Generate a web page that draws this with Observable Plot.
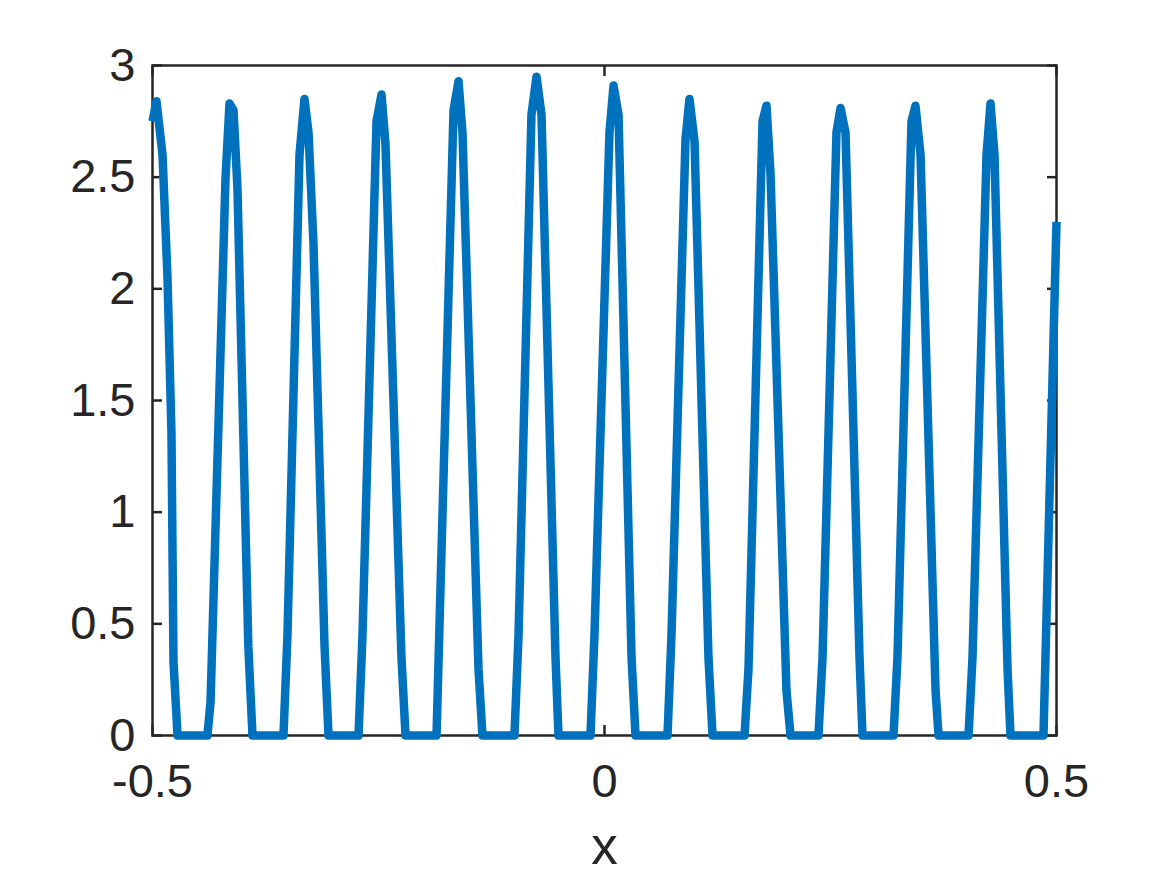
<!DOCTYPE html>
<html><head><meta charset="utf-8">
<script src="https://cdn.jsdelivr.net/npm/d3@7"></script>
<script src="https://cdn.jsdelivr.net/npm/@observablehq/plot@0.6"></script>
<style>body{margin:0;background:#fff}</style>
</head><body><div id="chart"></div>
<script>
const xValues = [
  -0.5, -0.4956, -0.4889, -0.4834, -0.4790, -0.4768, -0.4723,
  -0.4392, -0.4358, -0.4192, -0.4148, -0.4104, -0.4060, -0.3940, -0.3894,
  -0.3551, -0.3507, -0.3374, -0.3319, -0.3274, -0.3219, -0.3097, -0.3053,
  -0.2721, -0.2677, -0.2522, -0.2467, -0.2423, -0.2246, -0.2201,
  -0.1858, -0.1825, -0.1670, -0.1615, -0.1571, -0.1394, -0.1350,
  -0.0996, -0.0951, -0.0808, -0.0752, -0.0697, -0.0542, -0.0509,
  -0.0155, -0.0111, 0.0055, 0.0100, 0.0155, 0.0299, 0.0343,
  0.0697, 0.0741, 0.0896, 0.0940, 0.0996, 0.1150, 0.1195,
  0.1549, 0.1593, 0.1748, 0.1792, 0.1836, 0.2013, 0.2058,
  0.2367, 0.2412, 0.2566, 0.2611, 0.2666, 0.2821, 0.2854,
  0.3197, 0.3241, 0.3396, 0.3440, 0.3496, 0.3662, 0.3695,
  0.4027, 0.4071, 0.4226, 0.4270, 0.4314, 0.4458, 0.4491,
  0.4856, 0.5
];
const yValues = [
  2.75, 2.84, 2.6, 2.05, 1.35, 0.33, 0,
  0, 0.15, 2.5, 2.83, 2.8, 2.45, 0.4, 0,
  0, 0.45, 2.6, 2.85, 2.7, 2.2, 0.4, 0,
  0, 0.45, 2.75, 2.87, 2.65, 0.35, 0,
  0, 0.5, 2.8, 2.93, 2.7, 0.3, 0,
  0, 0.45, 2.78, 2.95, 2.78, 0.35, 0,
  0, 0.45, 2.7, 2.91, 2.78, 0.35, 0,
  0, 0.45, 2.67, 2.85, 2.66, 0.35, 0,
  0, 0.3, 2.75, 2.82, 2.52, 0.2, 0,
  0, 0.35, 2.7, 2.81, 2.7, 0.35, 0,
  0, 0.35, 2.75, 2.82, 2.6, 0.2, 0,
  0, 0.35, 2.6, 2.83, 2.6, 0.3, 0,
  0, 2.3
];
const xTicks = [-0.5, 0, 0.5];
const yTicks = [0, 0.5, 1, 1.5, 2, 2.5, 3];
const xLabel = "x";

const data = xValues.map((x, i) => ({x, y: yValues[i]}));
const axisColor = "#262626";
const fmt = d => String(d);

const chart = Plot.plot({
  width: 1167, height: 875,
  marginLeft: 152, marginRight: 111, marginTop: 65, marginBottom: 140,
  style: {fontFamily: "'Liberation Sans', Arial, Helvetica, sans-serif", background: "#fff", color: axisColor},
  x: {domain: [-0.5, 0.5]},
  y: {domain: [0, 3]},
  marks: [
    Plot.frame({stroke: axisColor, strokeWidth: 2.5}),
    Plot.axisX(xTicks, {anchor: "bottom", tickSize: -10, text: null, stroke: axisColor, strokeWidth: 2.5, label: null}),
    Plot.axisX(xTicks, {anchor: "top", tickSize: -10, text: null, stroke: axisColor, strokeWidth: 2.5, label: null}),
    Plot.axisY(yTicks, {anchor: "left", tickSize: -10, text: null, stroke: axisColor, strokeWidth: 2.5, label: null}),
    Plot.axisY(yTicks, {anchor: "right", tickSize: -10, text: null, stroke: axisColor, strokeWidth: 2.5, label: null}),
    Plot.axisX(xTicks, {anchor: "bottom", tickSize: 0, tickPadding: 28, fontSize: 47, tickFormat: fmt, fill: axisColor, label: null}),
    Plot.axisY(yTicks, {anchor: "left", tickSize: 0, tickPadding: 17, fontSize: 47, tickFormat: fmt, fill: axisColor, label: null}),
    Plot.axisX([], {anchor: "bottom", tickSize: 0, fontSize: 53, fill: axisColor, label: xLabel, labelAnchor: "center", labelArrow: "none", labelOffset: 128}),
    Plot.line(data, {x: "x", y: "y", stroke: "#0072BD", strokeWidth: 8.5, strokeLinejoin: "round", strokeLinecap: "butt"})
  ]
});
document.getElementById("chart").appendChild(chart);
</script>
</body></html>
